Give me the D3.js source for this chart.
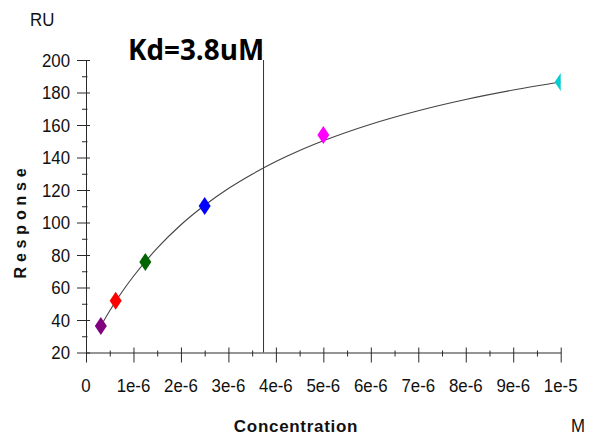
<!DOCTYPE html>
<html>
<head>
<meta charset="utf-8">
<script src="https://cdn.jsdelivr.net/npm/d3@7"></script>
<style>
  body { margin: 0; background: #fff; }
  svg { display: block; }
</style>
</head>
<body>
<div id="chart"></div>
<script>
// measured concentrations (M) and responses (RU)
const pointConc = [0.3125e-6, 0.625e-6, 1.25e-6, 2.5e-6, 5e-6, 10e-6];
const pointResp = [36.3, 51.9, 75.7, 110.2, 153.8, 186.5];
const pointColors = ["#800080", "#ff0000", "#006400", "#0000ff", "#ff00ff", "#00ced1"];

// fitted curve
const fitConc = [0.3125e-6, 0.5e-6, 0.75e-6, 1e-6, 1.5e-6, 2e-6, 2.5e-6, 3e-6, 3.5e-6, 4e-6, 4.5e-6, 5e-6, 6e-6, 7e-6, 8e-6, 9e-6, 10e-6];
const fitResp = [36.3, 45.7, 56.9, 66.9, 84.2, 98.6, 110.6, 120.9, 129.7, 137.5, 144.3, 150.3, 160.5, 168.8, 175.7, 181.5, 186.5];

const kdLine = 3.74e-6;
const kdLabel = "Kd=3.8uM";

const xTicks = [0, 1e-6, 2e-6, 3e-6, 4e-6, 5e-6, 6e-6, 7e-6, 8e-6, 9e-6, 1e-5];
const xTickLabels = ["0", "1e-6", "2e-6", "3e-6", "4e-6", "5e-6", "6e-6", "7e-6", "8e-6", "9e-6", "1e-5"];
const xMinor = [0.5e-6, 1.5e-6, 2.5e-6, 3.5e-6, 4.5e-6, 5.5e-6, 6.5e-6, 7.5e-6, 8.5e-6, 9.5e-6];
const yTicks = [20, 40, 60, 80, 100, 120, 140, 160, 180, 200];
const yMinor = [30, 50, 70, 90, 110, 130, 150, 170, 190];

const width = 600, height = 436;
const svg = d3.select("#chart").append("svg")
  .attr("width", width)
  .attr("height", height);

const x = d3.scaleLinear().domain([0, 1e-5]).range([86, 560.7]);
const y = d3.scaleLinear().domain([20, 200]).range([352.5, 60]);

const axisColor = "#2a2a2a";
const tickFont = "'Liberation Sans', Arial, sans-serif";
// tick text in the original is a little narrow and tall
const squeeze = "scale(0.91, 1)";

// x axis
const xAxis = svg.append("g")
  .attr("transform", `translate(0, ${y(20)})`)
  .call(d3.axisBottom(x).tickValues(xTicks).tickFormat("").tickSizeOuter(0));
xAxis.select(".domain").attr("stroke", axisColor);
xAxis.selectAll(".tick line").attr("y1", -5).attr("y2", 10).attr("stroke", axisColor);

const xAxisMinor = svg.append("g")
  .attr("transform", `translate(0, ${y(20)})`)
  .call(d3.axisBottom(x).tickValues(xMinor).tickFormat("").tickSizeOuter(0));
xAxisMinor.select(".domain").remove();
xAxisMinor.selectAll(".tick line").attr("y1", -2).attr("y2", 4).attr("stroke", axisColor);

svg.append("g").selectAll("text")
  .data(xTicks)
  .join("text")
  .attr("transform", d => `translate(${x(d)}, 391.5) ${squeeze}`)
  .attr("text-anchor", "middle")
  .attr("font-family", tickFont)
  .attr("font-size", 18.5)
  .attr("fill", "#111")
  .text((d, i) => xTickLabels[i]);

// y axis
const yAxis = svg.append("g")
  .attr("transform", `translate(${x(0)}, 0)`)
  .call(d3.axisLeft(y).tickValues(yTicks).tickFormat("").tickSizeOuter(0));
yAxis.select(".domain").attr("stroke", axisColor);
yAxis.selectAll(".tick line").attr("x1", -9).attr("x2", 4).attr("stroke", axisColor);

const yAxisMinor = svg.append("g")
  .attr("transform", `translate(${x(0)}, 0)`)
  .call(d3.axisLeft(y).tickValues(yMinor).tickFormat("").tickSizeOuter(0));
yAxisMinor.select(".domain").remove();
yAxisMinor.selectAll(".tick line").attr("x1", -4).attr("x2", 1.5).attr("stroke", axisColor);

svg.append("g").selectAll("text")
  .data(yTicks)
  .join("text")
  .attr("transform", d => `translate(70, ${y(d)}) ${squeeze}`)
  .attr("dy", "0.36em")
  .attr("text-anchor", "end")
  .attr("font-family", tickFont)
  .attr("font-size", 18.5)
  .attr("fill", "#111")
  .text(d => d);

// units and titles
svg.append("text")
  .attr("transform", `translate(30, 25.5) ${squeeze}`)
  .attr("font-family", tickFont).attr("font-size", 18.5).attr("fill", "#111")
  .text("RU");

svg.append("text")
  .attr("transform", `translate(571, 431.5) ${squeeze}`)
  .attr("font-family", tickFont).attr("font-size", 18.5).attr("fill", "#111")
  .text("M");

svg.append("text")
  .attr("x", 296).attr("y", 432)
  .attr("text-anchor", "middle")
  .attr("font-family", tickFont).attr("font-size", 17).attr("font-weight", "bold")
  .attr("letter-spacing", 0.7)
  .attr("fill", "#111")
  .text("Concentration");

svg.append("text")
  .attr("transform", "translate(26, 221) rotate(-90)")
  .attr("text-anchor", "middle")
  .attr("font-family", tickFont).attr("font-size", 16).attr("font-weight", "bold")
  .attr("letter-spacing", 4.8)
  .attr("fill", "#111")
  .text("Response");

// Kd marker line
svg.append("line")
  .attr("x1", x(kdLine)).attr("x2", x(kdLine))
  .attr("y1", y(200)).attr("y2", y(20))
  .attr("stroke", "#333").attr("stroke-width", 1);

svg.append("text")
  .attr("x", 128).attr("y", 59.5)
  .attr("font-family", "'Open Sans', sans-serif").attr("font-size", 27.8).attr("font-weight", "bold")
  .attr("fill", "#000")
  .text(kdLabel);

// clip at the plot edge
svg.append("clipPath").attr("id", "plot-clip")
  .append("rect")
  .attr("x", x(0)).attr("y", 0)
  .attr("width", x(1e-5) - x(0)).attr("height", y(20));

const plot = svg.append("g").attr("clip-path", "url(#plot-clip)");

const fitData = fitConc.map((c, i) => ({ c, r: fitResp[i] }));
plot.append("path")
  .datum(fitData)
  .attr("fill", "none")
  .attr("stroke", "#444")
  .attr("stroke-width", 1.1)
  .attr("d", d3.line().x(d => x(d.c)).y(d => y(d.r)).curve(d3.curveMonotoneX));

const pts = pointConc.map((c, i) => ({ c, r: pointResp[i], color: pointColors[i] }));
plot.selectAll(".pt")
  .data(pts)
  .join("path")
  .attr("class", "pt")
  .attr("transform", d => `translate(${x(d.c)}, ${y(d.r)})`)
  .attr("d", "M0,-9L6,0L0,9L-6,0Z")
  .attr("fill", d => d.color);
</script>
</body>
</html>
